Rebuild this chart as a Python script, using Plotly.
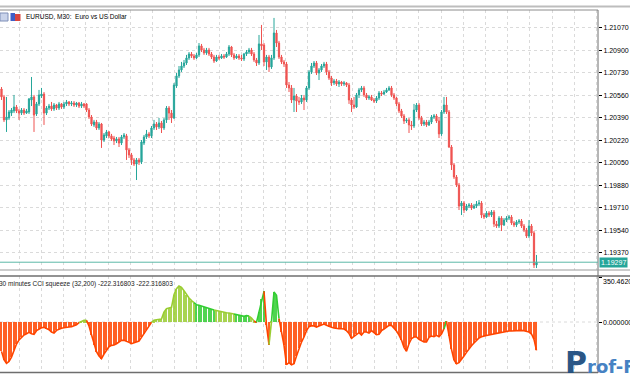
import plotly.graph_objects as go

# ---------------- data ----------------
open_ = [1.20608, 1.20548, 1.20374, 1.20389, 1.20426, 1.20442, 1.20472, 1.20442, 1.20426, 1.20449,
         1.20426, 1.20434, 1.20525, 1.20548, 1.20419, 1.20495, 1.20555, 1.20570, 1.20426, 1.20464,
         1.20479, 1.20457, 1.20487, 1.20464, 1.20495, 1.20472, 1.20495, 1.20510, 1.20495, 1.20502,
         1.20487, 1.20502, 1.20479, 1.20495, 1.20495, 1.20449, 1.20396, 1.20336, 1.20358, 1.20313,
         1.20343, 1.20222, 1.20253, 1.20283, 1.20253, 1.20237, 1.20215, 1.20230, 1.20199, 1.20245,
         1.20253, 1.20147, 1.20109, 1.20071, 1.20040, 1.20071, 1.20056, 1.20199, 1.20245, 1.20268,
         1.20253, 1.20313, 1.20343, 1.20321, 1.20351, 1.20313, 1.20374, 1.20464, 1.20426, 1.20389,
         1.20631, 1.20707, 1.20752, 1.20782, 1.20805, 1.20843, 1.20873, 1.20858, 1.20843, 1.20866,
         1.20934, 1.20903, 1.20881, 1.20903, 1.20873, 1.20850, 1.20820, 1.20850, 1.20843, 1.20858,
         1.20850, 1.20873, 1.20926, 1.20866, 1.20843, 1.20858, 1.20843, 1.20835, 1.20873, 1.20888,
         1.20903, 1.20873, 1.20828, 1.20805, 1.20949, 1.20941, 1.20813, 1.20850, 1.20775, 1.20843,
         1.21032, 1.20956, 1.20850, 1.20813, 1.20797, 1.20638, 1.20616, 1.20525, 1.20555, 1.20517,
         1.20510, 1.20540, 1.20525, 1.20616, 1.20737, 1.20782, 1.20805, 1.20729, 1.20752, 1.20782,
         1.20797, 1.20737, 1.20691, 1.20654, 1.20669, 1.20646, 1.20661, 1.20646, 1.20654, 1.20638,
         1.20525, 1.20487, 1.20472, 1.20563, 1.20601, 1.20616, 1.20563, 1.20540, 1.20548, 1.20525,
         1.20517, 1.20540, 1.20578, 1.20570, 1.20585, 1.20601, 1.20616, 1.20563, 1.20540, 1.20495,
         1.20442, 1.20404, 1.20366, 1.20374, 1.20336, 1.20328, 1.20449, 1.20487, 1.20389, 1.20343,
         1.20358, 1.20336, 1.20358, 1.20396, 1.20404, 1.20366, 1.20268, 1.20434, 1.20487, 1.20434,
         1.20169, 1.20033, 1.19942, 1.19881, 1.19722, 1.19745, 1.19692, 1.19722, 1.19730, 1.19707,
         1.19722, 1.19738, 1.19745, 1.19654, 1.19639, 1.19669, 1.19654, 1.19677, 1.19586, 1.19571,
         1.19631, 1.19579, 1.19616, 1.19631, 1.19639, 1.19594, 1.19579, 1.19601, 1.19609, 1.19571,
         1.19541, 1.19495, 1.19571, 1.19518, 1.19276]

high = [1.20623, 1.20563, 1.20548, 1.20449, 1.20464, 1.20563, 1.20487, 1.20457, 1.20464, 1.20464,
        1.20457, 1.20540, 1.20699, 1.20563, 1.20510, 1.20601, 1.20616, 1.20585, 1.20479, 1.20495,
        1.20510, 1.20502, 1.20495, 1.20510, 1.20502, 1.20510, 1.20525, 1.20517, 1.20517, 1.20517,
        1.20510, 1.20510, 1.20510, 1.20502, 1.20502, 1.20464, 1.20411, 1.20374, 1.20374, 1.20358,
        1.20351, 1.20275, 1.20298, 1.20290, 1.20268, 1.20253, 1.20245, 1.20245, 1.20260, 1.20275,
        1.20268, 1.20162, 1.20124, 1.20086, 1.20086, 1.20086, 1.20222, 1.20260, 1.20298, 1.20283,
        1.20328, 1.20374, 1.20358, 1.20389, 1.20366, 1.20389, 1.20479, 1.20479, 1.20449, 1.20654,
        1.20729, 1.20782, 1.20813, 1.20828, 1.20866, 1.20888, 1.20888, 1.20873, 1.20881, 1.20956,
        1.20949, 1.20919, 1.20919, 1.20919, 1.20888, 1.20866, 1.20866, 1.20866, 1.20873, 1.20873,
        1.20888, 1.20941, 1.20934, 1.20881, 1.20873, 1.20873, 1.20866, 1.20881, 1.20903, 1.20919,
        1.20919, 1.20888, 1.20843, 1.21017, 1.21093, 1.20956, 1.20866, 1.20866, 1.20866, 1.21146,
        1.21055, 1.20972, 1.20866, 1.20828, 1.20813, 1.20661, 1.20638, 1.20616, 1.20570, 1.20548,
        1.20563, 1.20563, 1.20631, 1.20752, 1.20805, 1.20820, 1.20820, 1.20767, 1.20797, 1.20813,
        1.20813, 1.20752, 1.20707, 1.20684, 1.20684, 1.20676, 1.20669, 1.20669, 1.20661, 1.20654,
        1.20540, 1.20548, 1.20578, 1.20616, 1.20631, 1.20631, 1.20578, 1.20563, 1.20563, 1.20540,
        1.20555, 1.20593, 1.20593, 1.20601, 1.20616, 1.20631, 1.20631, 1.20578, 1.20548, 1.20510,
        1.20457, 1.20419, 1.20389, 1.20389, 1.20366, 1.20495, 1.20502, 1.20502, 1.20404, 1.20374,
        1.20374, 1.20374, 1.20411, 1.20419, 1.20419, 1.20396, 1.20449, 1.20548, 1.20548, 1.20449,
        1.20184, 1.20048, 1.19957, 1.19897, 1.19760, 1.19760, 1.19738, 1.19745, 1.19745, 1.19738,
        1.19760, 1.19768, 1.19760, 1.19669, 1.19684, 1.19684, 1.19692, 1.19692, 1.19609, 1.19646,
        1.19646, 1.19631, 1.19646, 1.19654, 1.19654, 1.19609, 1.19616, 1.19624, 1.19624, 1.19586,
        1.19556, 1.19616, 1.19586, 1.19533, 1.19352]

low = [1.20525, 1.20358, 1.20283, 1.20374, 1.20404, 1.20426, 1.20426, 1.20374, 1.20411, 1.20411,
       1.20419, 1.20419, 1.20479, 1.20283, 1.20404, 1.20479, 1.20540, 1.20336, 1.20411, 1.20449,
       1.20442, 1.20442, 1.20449, 1.20449, 1.20457, 1.20457, 1.20479, 1.20479, 1.20479, 1.20472,
       1.20472, 1.20464, 1.20464, 1.20464, 1.20434, 1.20381, 1.20328, 1.20321, 1.20298, 1.20298,
       1.20162, 1.20207, 1.20237, 1.20237, 1.20215, 1.20184, 1.20199, 1.20169, 1.20184, 1.20230,
       1.20071, 1.20086, 1.20033, 1.20025, 1.19919, 1.20033, 1.20040, 1.20184, 1.20230, 1.20237,
       1.20237, 1.20298, 1.20298, 1.20305, 1.20275, 1.20298, 1.20351, 1.20374, 1.20351, 1.20381,
       1.20616, 1.20691, 1.20737, 1.20767, 1.20790, 1.20828, 1.20843, 1.20828, 1.20835, 1.20850,
       1.20888, 1.20866, 1.20866, 1.20858, 1.20835, 1.20805, 1.20813, 1.20828, 1.20835, 1.20835,
       1.20843, 1.20858, 1.20850, 1.20828, 1.20835, 1.20828, 1.20820, 1.20820, 1.20858, 1.20873,
       1.20858, 1.20813, 1.20782, 1.20790, 1.20903, 1.20782, 1.20752, 1.20737, 1.20760, 1.20828,
       1.20926, 1.20835, 1.20797, 1.20775, 1.20616, 1.20585, 1.20502, 1.20434, 1.20434, 1.20487,
       1.20495, 1.20449, 1.20510, 1.20601, 1.20722, 1.20767, 1.20714, 1.20676, 1.20737, 1.20767,
       1.20714, 1.20676, 1.20631, 1.20638, 1.20631, 1.20623, 1.20631, 1.20631, 1.20623, 1.20495,
       1.20434, 1.20457, 1.20464, 1.20540, 1.20585, 1.20548, 1.20525, 1.20525, 1.20517, 1.20502,
       1.20502, 1.20525, 1.20555, 1.20563, 1.20578, 1.20593, 1.20548, 1.20525, 1.20479, 1.20426,
       1.20389, 1.20343, 1.20351, 1.20275, 1.20298, 1.20313, 1.20434, 1.20374, 1.20328, 1.20328,
       1.20321, 1.20328, 1.20343, 1.20381, 1.20351, 1.20237, 1.20253, 1.20419, 1.20419, 1.20162,
       1.19995, 1.19927, 1.19866, 1.19692, 1.19654, 1.19669, 1.19684, 1.19707, 1.19692, 1.19700,
       1.19707, 1.19722, 1.19631, 1.19624, 1.19631, 1.19639, 1.19639, 1.19563, 1.19556, 1.19556,
       1.19533, 1.19571, 1.19601, 1.19616, 1.19579, 1.19563, 1.19563, 1.19586, 1.19556, 1.19525,
       1.19480, 1.19480, 1.19495, 1.19253, 1.19253]

close = [1.20548, 1.20374, 1.20396, 1.20434, 1.20449, 1.20472, 1.20442, 1.20426, 1.20449, 1.20426,
         1.20442, 1.20533, 1.20548, 1.20411, 1.20495, 1.20563, 1.20570, 1.20426, 1.20464, 1.20479,
         1.20457, 1.20487, 1.20464, 1.20495, 1.20472, 1.20495, 1.20510, 1.20495, 1.20502, 1.20487,
         1.20502, 1.20479, 1.20495, 1.20479, 1.20449, 1.20396, 1.20343, 1.20358, 1.20313, 1.20343,
         1.20222, 1.20260, 1.20283, 1.20253, 1.20230, 1.20215, 1.20230, 1.20199, 1.20245, 1.20260,
         1.20147, 1.20109, 1.20071, 1.20040, 1.20071, 1.20056, 1.20207, 1.20245, 1.20268, 1.20253,
         1.20313, 1.20343, 1.20321, 1.20351, 1.20313, 1.20374, 1.20464, 1.20426, 1.20389, 1.20638,
         1.20707, 1.20752, 1.20782, 1.20805, 1.20843, 1.20873, 1.20858, 1.20843, 1.20866, 1.20934,
         1.20903, 1.20881, 1.20903, 1.20873, 1.20850, 1.20820, 1.20850, 1.20843, 1.20858, 1.20850,
         1.20873, 1.20926, 1.20866, 1.20843, 1.20858, 1.20843, 1.20835, 1.20873, 1.20888, 1.20903,
         1.20873, 1.20828, 1.20805, 1.20949, 1.20934, 1.20813, 1.20850, 1.20775, 1.20843, 1.21032,
         1.20956, 1.20850, 1.20813, 1.20797, 1.20638, 1.20616, 1.20525, 1.20555, 1.20517, 1.20510,
         1.20540, 1.20525, 1.20616, 1.20737, 1.20782, 1.20805, 1.20729, 1.20752, 1.20782, 1.20797,
         1.20737, 1.20691, 1.20654, 1.20669, 1.20646, 1.20661, 1.20646, 1.20654, 1.20638, 1.20525,
         1.20487, 1.20472, 1.20563, 1.20601, 1.20616, 1.20563, 1.20540, 1.20548, 1.20525, 1.20517,
         1.20540, 1.20578, 1.20570, 1.20585, 1.20601, 1.20616, 1.20563, 1.20540, 1.20495, 1.20442,
         1.20404, 1.20366, 1.20374, 1.20336, 1.20328, 1.20449, 1.20487, 1.20389, 1.20343, 1.20358,
         1.20336, 1.20358, 1.20396, 1.20404, 1.20366, 1.20268, 1.20434, 1.20487, 1.20434, 1.20169,
         1.20033, 1.19942, 1.19881, 1.19722, 1.19745, 1.19692, 1.19722, 1.19730, 1.19707, 1.19722,
         1.19738, 1.19745, 1.19654, 1.19639, 1.19669, 1.19654, 1.19677, 1.19586, 1.19571, 1.19631,
         1.19579, 1.19616, 1.19631, 1.19639, 1.19594, 1.19579, 1.19601, 1.19609, 1.19571, 1.19541,
         1.19495, 1.19571, 1.19518, 1.19276, 1.19297]

cci = [-230.3, -295.7, -324.5, -308.8, -274.8, -222.4, -172.7, -141.3, -117.8, -102.1,
       -91.6, -81.1, -91.6, -96.8, -68.0, -55.0, -44.5, -41.9, -52.3, -60.2,
       -78.5, -86.4, -65.4, -55.0, -49.7, -44.5, -39.3, -39.3, -36.6, -31.4,
       -20.9, -5.2, 5.2, 13.1, 13.1, -31.4, -99.4, -178.0, -232.9, -266.9,
       -287.9, -251.2, -217.2, -193.7, -183.2, -180.6, -170.1, -159.6, -143.9, -143.9,
       -149.2, -159.6, -170.1, -162.3, -157.0, -149.2, -120.4, -91.6, -60.2, -31.4,
       -2.6, 13.1, 18.3, 23.6, 23.6, 78.5, 104.7, 109.9, 115.1, 214.6,
       261.7, 282.6, 272.2, 246.0, 214.6, 188.4, 167.5, 151.8, 136.1, 130.9,
       125.6, 120.4, 112.5, 107.3, 99.4, 94.2, 89.0, 83.7, 81.1, 78.5,
       73.3, 70.7, 68.0, 62.8, 57.6, 52.3, 47.1, 44.5, 49.7, 47.1,
       31.4, 7.9, -2.6, 78.5, 183.2, 240.8, -26.2, -178.0, 5.2, 235.5,
       209.4, 26.2, -78.5, -183.2, -335.0, -319.3, -335.0, -327.1, -266.9, -204.1,
       -157.0, -117.8, -68.0, -36.6, -28.8, -31.4, -39.3, -31.4, -20.9, -15.7,
       -26.2, -36.6, -41.9, -47.1, -52.3, -52.3, -52.3, -55.0, -68.0, -89.0,
       -128.2, -112.5, -94.2, -83.7, -102.1, -78.5, -78.5, -86.4, -68.0, -83.7,
       -99.4, -96.8, -68.0, -55.0, -41.9, -26.2, -26.2, -44.5, -70.7, -102.1,
       -141.3, -198.9, -230.3, -170.1, -130.9, -117.8, -117.8, -136.1, -149.2, -157.0,
       -157.0, -120.4, -109.9, -115.1, -104.7, -115.1, -94.2, -52.3, 5.2, -109.9,
       -214.6, -298.3, -327.1, -319.3, -295.7, -266.9, -238.1, -209.4, -185.8, -164.9,
       -143.9, -125.6, -115.1, -107.3, -104.7, -102.1, -96.8, -94.2, -91.6, -86.4,
       -81.1, -78.5, -73.3, -70.7, -70.7, -68.0, -65.4, -65.4, -65.4, -68.0,
       -73.3, -78.5, -94.2, -136.1, -222.316803]

# bars where the positive CCI is drawn in the stronger green
strong_green_bars = [78, 79, 80, 81, 82, 83, 84, 85, 94, 95, 96, 97, 98, 99,
                     103, 104, 105, 109, 110, 111, 178]

price_ticks = [1.21070, 1.20900, 1.20730, 1.20560, 1.20390, 1.20220,
               1.20050, 1.19880, 1.19710, 1.19540, 1.19370]
price_tick_text = ["1.21070", "1.20900", "1.20730", "1.20560", "1.20390", "1.20220",
                   "1.20050", "1.19880", "1.19710", "1.19540", "1.19370"]
last_price = 1.19297
last_price_text = "1.19297"
cci_max_text = "350.46203"
cci_max = 350.46203
cci_zero_text = "0.000000"
title_text = "EURUSD, M30:  Euro vs US Dollar"
cci_label = "30 minutes CCI squeeze (32,200) -222.316803 -222.316803"
watermark = "Prof-F"

# ---------------- styling ----------------
UP = "#26A69A"
DOWN = "#EF5350"
NEG = "#FF4500"
POS = "#9ACD32"
POS2 = "#32CD32"
GRID = "#DADADA"
FONT = "Liberation Sans"

W, H = 630, 380
ML, MR, MT, MB = 0, 32, 10, 7
PW, PH = W - ML - MR, H - MT - MB


def px_x(x):
    return (x - ML) / PW


def px_y(y):
    return (H - MB - y) / PH


x_idx = list(range(len(close)))

colors = []
for i, v in enumerate(cci):
    if v < 0:
        colors.append(NEG)
    elif i in strong_green_bars:
        colors.append(POS2)
    else:
        colors.append(POS)

fig = go.Figure()

fig.add_trace(go.Candlestick(
    x=x_idx, open=open_, high=high, low=low, close=close,
    increasing=dict(line=dict(color=UP, width=1), fillcolor=UP),
    decreasing=dict(line=dict(color=DOWN, width=1), fillcolor=DOWN),
    whiskerwidth=0, showlegend=False, hoverinfo="skip",
    xaxis="x", yaxis="y"))

fig.add_trace(go.Bar(
    x=x_idx, y=cci, marker=dict(color=colors, line=dict(width=0)),
    width=0.42, opacity=0.85, showlegend=False, hoverinfo="skip",
    xaxis="x2", yaxis="y2"))

# line over the histogram, split into same-colour runs
segs = []
cur_color = colors[1]
cur_x = [0, 1]
for i in range(2, len(cci)):
    if colors[i] == cur_color:
        cur_x.append(i)
    else:
        segs.append((cur_color, cur_x))
        cur_color = colors[i]
        cur_x = [i - 1, i]
segs.append((cur_color, cur_x))
for col, xs in segs:
    fig.add_trace(go.Scatter(
        x=xs, y=[cci[j] for j in xs], mode="lines",
        line=dict(color=col, width=1.6), showlegend=False, hoverinfo="skip",
        xaxis="x2", yaxis="y2"))

main_bottom = px_y(270)
ind_top = px_y(276)

xrange = [-0.6, 238.6]
fig.update_layout(
    width=W, height=H,
    margin=dict(l=ML, r=MR, t=MT, b=MB, autoexpand=False),
    paper_bgcolor="white", plot_bgcolor="white",
    font=dict(family=FONT, size=7, color="black"),
    showlegend=False, bargap=0,
    xaxis=dict(domain=[0, 1], range=xrange, anchor="y", showticklabels=False,
               showgrid=True, gridcolor=GRID, griddash="dot", gridwidth=1,
               tick0=7.12, dtick=8.88, ticks="", zeroline=False, showline=False,
               rangeslider=dict(visible=False), automargin=False),
    yaxis=dict(domain=[main_bottom, 1], range=[1.19238, 1.21206], side="right",
               tickmode="array", tickvals=price_ticks, ticktext=price_tick_text,
               ticks="outside", ticklen=3, tickcolor="#000", tickwidth=1,
               tickfont=dict(size=7, family=FONT, color="black"),
               showgrid=True, gridcolor=GRID, griddash="dot", zeroline=False,
               showline=False, automargin=False),
    xaxis2=dict(domain=[0, 1], range=xrange, anchor="y2", matches="x",
                showticklabels=False, showgrid=True, gridcolor=GRID, griddash="dot",
                tick0=7.12, dtick=8.88, ticks="", zeroline=False, showline=False,
                automargin=False),
    yaxis2=dict(domain=[0, ind_top], range=[-400, 361], side="right",
                tickmode="array", tickvals=[0, cci_max], ticktext=["", ""],
                ticks="outside", ticklen=3, tickcolor="#000",
                showgrid=False, zeroline=False, showline=False, automargin=False),
)

shapes = []
# window frame line at the very top
shapes.append(dict(type="line", xref="paper", yref="paper", x0=0, x1=W / PW,
                   y0=px_y(6.5), y1=px_y(6.5), line=dict(color="#BDBDBD", width=2)))
# chart borders
shapes.append(dict(type="line", xref="paper", yref="paper", x0=0, x1=1,
                   y0=1, y1=1, line=dict(color="#8C8C8C", width=1)))
shapes.append(dict(type="line", xref="paper", yref="paper", x0=1, x1=1,
                   y0=0, y1=1, line=dict(color="#6E6E6E", width=1)))
shapes.append(dict(type="line", xref="paper", yref="paper", x0=0, x1=W / PW,
                   y0=main_bottom, y1=main_bottom, line=dict(color="#9A9A9A", width=1)))
shapes.append(dict(type="line", xref="paper", yref="paper", x0=0, x1=W / PW,
                   y0=ind_top, y1=ind_top, line=dict(color="#6E6E6E", width=1.5)))
shapes.append(dict(type="line", xref="paper", yref="paper", x0=0, x1=1,
                   y0=px_y(372.5), y1=px_y(372.5), line=dict(color="#6E6E6E", width=1.5)))
# zero line of the indicator (dotted grid)
shapes.append(dict(type="line", xref="paper", yref="y2", x0=0, x1=1, y0=0, y1=0,
                   line=dict(color=GRID, width=1, dash="dot"), layer="below"))
# current price line
shapes.append(dict(type="line", xref="paper", yref="y", x0=0, x1=1,
                   y0=last_price, y1=last_price, line=dict(color="#5DB8A8", width=1)))
# small toolbar icons left of the title
shapes.append(dict(type="rect", xref="paper", yref="paper", x0=px_x(0), x1=px_x(8),
                   y0=px_y(21), y1=px_y(13), fillcolor="#C9D3EA",
                   line=dict(color="#7F8FB8", width=1)))
shapes.append(dict(type="rect", xref="paper", yref="paper", x0=px_x(10.5), x1=px_x(15),
                   y0=px_y(21), y1=px_y(13), fillcolor="#3F5FC8", line=dict(width=0)))
shapes.append(dict(type="rect", xref="paper", yref="paper", x0=px_x(15), x1=px_x(20.5),
                   y0=px_y(21), y1=px_y(14), fillcolor="#D9453F", line=dict(width=0)))
fig.update_layout(shapes=shapes)

ann = []
ann.append(dict(text=title_text, xref="paper", yref="paper", x=px_x(24), y=px_y(17),
                xanchor="left", yanchor="middle", showarrow=False,
                font=dict(size=6.5, family=FONT, color="black")))
ann.append(dict(text=cci_label, xref="paper", yref="paper", x=px_x(-3), y=px_y(284),
                xanchor="left", yanchor="middle", showarrow=False,
                font=dict(size=6.5, family=FONT, color="#222")))
ann.append(dict(text=last_price_text, xref="paper", yref="y", x=1, y=last_price,
                xanchor="left", yanchor="middle", showarrow=False,
                bgcolor=UP, borderpad=1, xshift=1,
                font=dict(size=7, family=FONT, color="white")))
ann.append(dict(text=cci_max_text, xref="paper", yref="paper", x=1, y=px_y(281),
                xanchor="left", yanchor="middle", showarrow=False, xshift=3,
                font=dict(size=7, family=FONT, color="black")))
ann.append(dict(text=cci_zero_text, xref="paper", yref="y2", x=1, y=0,
                xanchor="left", yanchor="middle", showarrow=False, xshift=3,
                font=dict(size=7, family=FONT, color="black")))
ann.append(dict(text="<b><span style='font-size:30px;color:#1F4E80'>" + watermark[0]
                + "</span>" + watermark[1:] + "</b>",
                xref="paper", yref="paper", x=px_x(563), y=px_y(362),
                xanchor="left", yanchor="middle", showarrow=False,
                font=dict(size=18, family="DejaVu Sans", color="#3D7CC0"), opacity=0.95))
fig.update_layout(annotations=ann)

fig.write_html("out.html", config={"displayModeBar": False},
               post_script="document.body.style.margin='0';document.body.style.overflow='hidden';")
